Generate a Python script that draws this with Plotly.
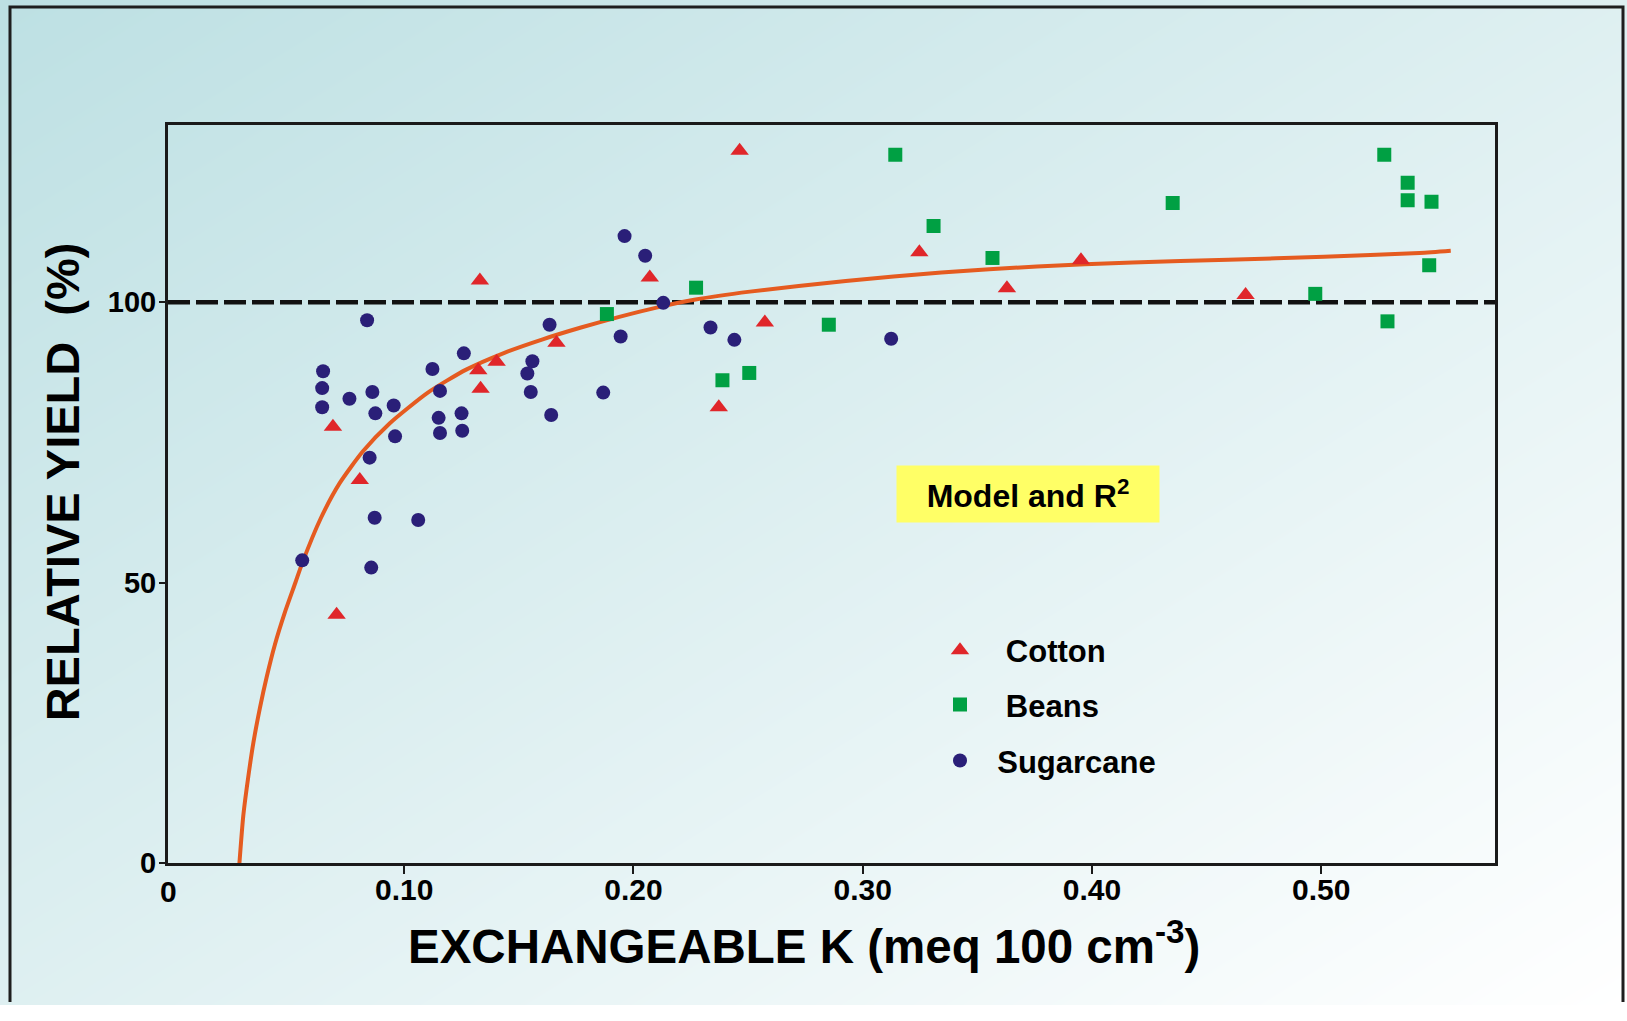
import plotly.graph_objects as go

# ---------------- data ----------------
cotton_x = [0.0689, 0.0806, 0.0705, 0.1330, 0.1323, 0.1333, 0.1403, 0.1664, 0.2071, 0.2372,
            0.2463, 0.2573, 0.3247, 0.3629, 0.3952, 0.4670]
cotton_y = [77.8, 68.3, 44.3, 103.9, 87.9, 84.6, 89.4, 92.8, 104.4, 81.3,
            127.0, 96.4, 108.9, 102.5, 107.5, 101.3]

beans_x = [0.1884, 0.2273, 0.2388, 0.2505, 0.2852, 0.3142, 0.3309, 0.3566, 0.4352, 0.4974,
           0.5275, 0.5289, 0.5377, 0.5377, 0.5481, 0.5471]
beans_y = [97.9, 102.6, 86.1, 87.4, 96.0, 126.3, 113.6, 107.9, 117.7, 101.5,
           126.3, 96.6, 121.3, 118.2, 117.9, 106.6]

sugar_x = [0.0555, 0.0838, 0.0646, 0.0642, 0.0642, 0.0761, 0.0861, 0.0874, 0.0954, 0.0960,
           0.0849, 0.0871, 0.1061, 0.0856, 0.1123, 0.1156, 0.1150, 0.1156, 0.1250, 0.1253,
           0.1260, 0.1559, 0.1537, 0.1552, 0.1634, 0.1641, 0.1868, 0.1944, 0.1961, 0.2051,
           0.2130, 0.2336, 0.2440, 0.3124]
sugar_y = [54.0, 96.8, 87.7, 84.7, 81.3, 82.8, 84.0, 80.2, 81.6, 76.1,
           72.3, 61.6, 61.2, 52.7, 88.1, 84.2, 79.4, 76.7, 80.2, 77.1,
           90.9, 89.5, 87.3, 84.0, 96.0, 79.9, 83.9, 93.9, 111.8, 108.3,
           99.9, 95.5, 93.3, 93.5]

model_x = [0.0281, 0.0298, 0.0320, 0.0342, 0.0371, 0.0400, 0.0436, 0.0480, 0.0525, 0.0555,
           0.0636, 0.0719, 0.0819, 0.0936, 0.1103, 0.1270, 0.1437, 0.1604, 0.1771, 0.1938,
           0.2105, 0.2271, 0.2508, 0.2926, 0.3343, 0.3760, 0.4177, 0.4594, 0.5012, 0.5429,
           0.5565]
model_y = [0.0, 8.5, 15.5, 21.5, 27.8, 33.2, 39.0, 44.8, 50.0, 53.5,
           61.5, 67.8, 73.4, 78.4, 83.9, 88.0, 91.0, 93.4, 95.5, 97.4,
           99.1, 100.5, 101.9, 103.8, 105.3, 106.4, 107.1, 107.6, 108.1, 108.8,
           109.2]

x_tick_vals = [0.1, 0.2, 0.3, 0.4, 0.5]
x_tick_text = ["0.10", "0.20", "0.30", "0.40", "0.50"]
y_tick_vals = [0, 50, 100]
y_tick_text = ["0", "50", "100"]
reference_yield = 100

# ---------------- layout constants ----------------
W, H = 1627, 1021
FONT = "Liberation Sans, Arial, Helvetica, sans-serif"
X_RANGE = [-0.00305, 0.5758]
Y_RANGE = [0, 131.6]
px = lambda v: v / W          # page pixel -> paper fraction
py = lambda v: 1 - v / H

fig = go.Figure()

# background: diagonal gradient filling the paper (hidden subplot)
fig.add_trace(go.Heatmap(
    z=[[1, 2], [0, 1]], x=[0, 1], y=[0, 1], zsmooth="best",
    colorscale=[[0, "#bde0e3"], [1, "#ffffff"]], zmin=0, zmax=2,
    showscale=False, hoverinfo="skip", xaxis="x", yaxis="y"))

# dashed 100 % reference line spanning the x-axis range
fig.add_trace(go.Scatter(
    x=X_RANGE, y=[reference_yield, reference_yield], mode="lines",
    line=dict(color="#111111", width=4.5, dash="22px,6px"),
    showlegend=False, hoverinfo="skip", xaxis="x2", yaxis="y2"))

fig.add_trace(go.Scatter(
    x=model_x, y=model_y, mode="lines", line=dict(color="#e55b20", width=4, shape="spline", smoothing=0.6),
    showlegend=False, hoverinfo="skip", xaxis="x2", yaxis="y2"))

fig.add_trace(go.Scatter(
    x=cotton_x, y=cotton_y, mode="markers", name="\u00a0\u00a0\u00a0Cotton",
    marker=dict(symbol="triangle-up", size=16, color="#e0262a"),
    xaxis="x2", yaxis="y2", legend="legend"))
fig.add_trace(go.Scatter(
    x=beans_x, y=beans_y, mode="markers", name="\u00a0\u00a0\u00a0Beans",
    marker=dict(symbol="square", size=14, color="#00a043"),
    xaxis="x2", yaxis="y2", legend="legend2"))
fig.add_trace(go.Scatter(
    x=sugar_x, y=sugar_y, mode="markers", name="\u00a0\u00a0Sugarcane",
    marker=dict(symbol="circle", size=14, color="#2a1f78"),
    xaxis="x2", yaxis="y2", legend="legend3"))

leg_common = dict(bgcolor="rgba(0,0,0,0)", borderwidth=0, xanchor="left", yanchor="middle",
                  font=dict(family=FONT, size=31, color="#000000", weight="bold"))

fig.update_layout(
    width=W, height=H, autosize=False,
    margin=dict(l=0, r=0, t=0, b=0),
    paper_bgcolor="#ffffff", plot_bgcolor="rgba(0,0,0,0)",
    xaxis=dict(domain=[0, 1], range=[0, 1], visible=False, fixedrange=True),
    yaxis=dict(domain=[0, 1], range=[0, 1], visible=False, fixedrange=True),
    xaxis2=dict(domain=[px(168), px(1495)], anchor="y2", range=X_RANGE,
                tickvals=x_tick_vals, ticktext=x_tick_text, ticks="outside", ticklen=8, tickwidth=2,
                tickcolor="#1a1a1a", showline=True, mirror=True, linewidth=3, linecolor="#1a1a1a",
                showgrid=False, zeroline=False, ticklabelstandoff=-10,
                tickfont=dict(family=FONT, size=30, color="#000000", weight="bold")),
    yaxis2=dict(domain=[py(877), py(127)], anchor="x2", range=Y_RANGE,
                tickvals=y_tick_vals, ticktext=y_tick_text, ticks="outside", ticklen=6, tickwidth=2,
                tickcolor="#1a1a1a", showline=True, mirror=True, linewidth=3, linecolor="#1a1a1a",
                showgrid=False, zeroline=False, ticklabelstandoff=-3,
                tickfont=dict(family=FONT, size=29, color="#000000", weight="bold")),
    legend=dict(x=px(940), y=py(661), **leg_common),
    legend2=dict(x=px(940), y=py(716), **leg_common),
    legend3=dict(x=px(940), y=py(773), **leg_common),
    showlegend=True,
)

# outer frame (kept fully inside the paper so nothing extends past the page edge)
fig.add_shape(type="path", xref="paper", yref="paper",
              path=f"M {px(10)},{py(1018)} L {px(10)},{py(7)} L {px(1623)},{py(7)} L {px(1623)},{py(1018)}",
              line=dict(color="#1e1e1e", width=3))

# x tick label "0"
fig.add_annotation(x=0, y=py(877), xref="x2", yref="paper", text="0", showarrow=False,
                   yanchor="top", yshift=-10, xshift=-6,
                   font=dict(family=FONT, size=30, color="#000000", weight="bold"))

# axis titles
fig.add_annotation(x=px(804), y=py(958), xref="paper", yref="paper", showarrow=False,
                   text="EXCHANGEABLE K (meq 100 cm<sup>-3</sup>)", xanchor="center", yanchor="middle",
                   font=dict(family=FONT, size=47.5, color="#000000", weight="bold"))
fig.add_annotation(x=px(62), y=py(490), xref="paper", yref="paper", showarrow=False,
                   text="RELATIVE YIELD\u00a0 (%)", textangle=-90, xanchor="center", yanchor="middle",
                   font=dict(family=FONT, size=47, color="#000000", weight="bold"))

# model box
fig.add_annotation(x=px(1028), y=py(502), xref="paper", yref="paper", showarrow=False,
                   text="Model and R<sup>2</sup>", xanchor="center", yanchor="middle",
                   width=262, height=56, borderpad=0, bgcolor="#ffff66",
                   font=dict(family=FONT, size=32, color="#000000", weight="bold"))

# keep the page exactly the size of the window
page_fix = (
    "var s=document.createElement('style');"
    "s.innerHTML='html,body{margin:0 !important;padding:0 !important;overflow:hidden !important;"
    "width:1627px !important;height:1021px !important;}"
    ".plotly-graph-div,.plot-container,.svg-container{overflow:hidden !important;"
    "width:1627px !important;height:1021px !important;}"
    ".main-svg{overflow:hidden !important;}';"
    "document.head.appendChild(s);"
)

fig.write_html("out.html", config={"staticPlot": True, "displayModeBar": False, "responsive": False},
               post_script=page_fix)
